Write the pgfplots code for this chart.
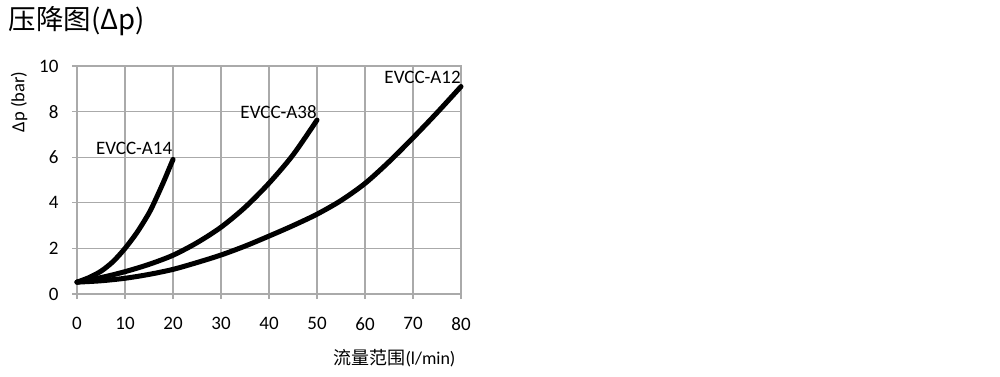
\documentclass[border=0pt]{standalone}
\usepackage{pgfplots}
\pgfplotsset{compat=1.18}
\usepackage{fontspec}
\setmainfont{Carlito}
\newfontfamily\cjk{Noto Sans CJK SC}
\definecolor{gridgray}{RGB}{170,170,170}
\begin{document}
\begin{tikzpicture}[x=1pt,y=1pt]
\path (0,0) rectangle (1000,376);
\begin{axis}[
  at={(77pt,82pt)}, anchor=south west,
  scale only axis, width=384pt, height=228pt,
  xmin=0, xmax=80, ymin=0, ymax=10,
  xtick={0,10,...,80}, ytick={0,2,...,10},
  grid=major,
  grid style={gridgray, line width=1.3pt},
  axis line style={gridgray, line width=1.3pt},
  tick style={gridgray, line width=1.3pt},
  tick align=outside, major tick length=5pt,
  xtick pos=bottom, ytick pos=left,
  every tick label/.style={font=\fontsize{19}{22}\selectfont},
  xticklabel style={yshift=-15pt},
  yticklabel style={xshift=-10pt},
  /pgf/number format/assume math mode=true,
  clip=false,
]
\addplot[black, line width=5pt, smooth, line cap=round] coordinates {
(0,0.52)(2.5,0.72)(5,1.0)(7.5,1.42)(10,2.0)(12.5,2.7)(15,3.55)(16.5,4.2)(18,4.9)(19,5.4)(20,5.9)};
\addplot[black, line width=5pt, smooth, line cap=round] coordinates {
(0,0.52)(5,0.72)(10,0.98)(15,1.3)(20,1.7)(25,2.25)(30,2.93)(35,3.8)(40,4.86)(45,6.1)(50,7.63)};
\addplot[black, line width=5pt, smooth, line cap=round] coordinates {
(0,0.52)(5,0.58)(10,0.69)(15,0.86)(20,1.08)(25,1.38)(30,1.71)(35,2.1)(40,2.54)(45,3.0)(50,3.5)(55,4.1)(60,4.85)(65,5.8)(70,6.85)(75,7.95)(80,9.1)};
\node[font=\fontsize{19}{22}\selectfont] at (axis cs:11.9,6.4) {EVCC-A14};
\node[font=\fontsize{19}{22}\selectfont] at (axis cs:42,8.0) {EVCC-A38};
\node[font=\fontsize{19}{22}\selectfont] at (axis cs:72,9.5) {EVCC-A12};
\end{axis}
\node[anchor=west, font=\fontsize{27.5}{30}\selectfont] at (5,354.5) {\cjk 压降图(Δp)};
\node[rotate=90, font=\fontsize{18.5}{20}\selectfont] at (19,274) {Δp (bar)};
\node[anchor=east, font=\fontsize{18}{20}\selectfont] at (459,18) {{\cjk 流量范围}(l/min)};
\end{tikzpicture}
\end{document}
